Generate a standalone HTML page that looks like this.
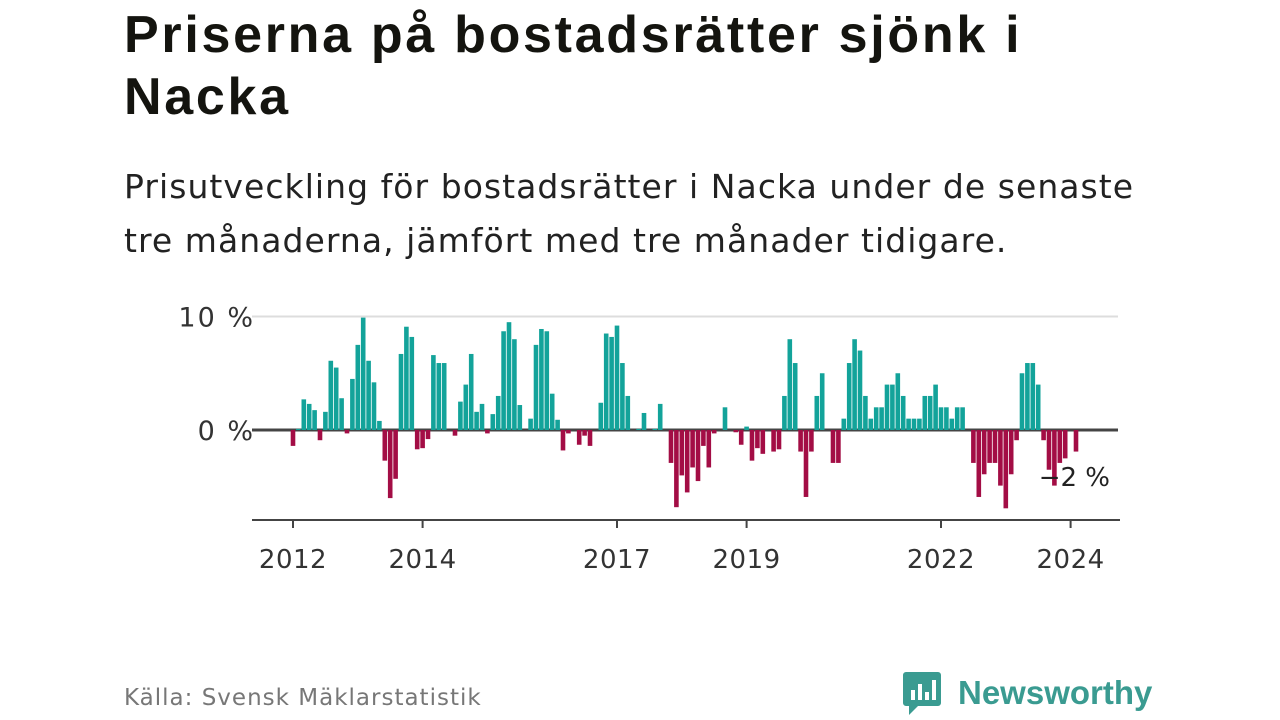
<!DOCTYPE html>
<html><head><meta charset="utf-8"><style>
body{margin:0;width:1280px;height:720px;background:#fff;font-family:"DejaVu Sans","Liberation Sans",sans-serif;overflow:hidden;position:relative;color:#111}
h1{position:absolute;left:124px;top:4px;margin:0;font-family:"Liberation Sans",sans-serif;font-size:52px;line-height:62px;font-weight:bold;color:#14140f;width:960px;letter-spacing:2.7px}
.sub{position:absolute;left:124px;top:160px;font-size:33px;line-height:54px;color:#222;width:1050px;letter-spacing:1.05px}
.src{position:absolute;left:124px;top:685px;font-size:23px;color:#777;letter-spacing:1px}
.logo{position:absolute;left:902px;top:670px;display:flex;align-items:center;color:#3a9b91;font-weight:bold;font-size:33px;font-family:"Liberation Sans",sans-serif}
</style></head><body>
<h1>Priserna på bostadsrätter sjönk i Nacka</h1>
<div class="sub">Prisutveckling för bostadsrätter i Nacka under de senaste tre månaderna, jämfört med tre månader tidigare.</div>
<svg id="chart" width="1280" height="720" style="position:absolute;left:0;top:0"></svg>
<div class="src">Källa: Svensk Mäklarstatistik</div>
<div class="logo"><svg width="40" height="46" viewBox="0 0 40 46"><path d="M4 2h32a3 3 0 0 1 3 3v28a3 3 0 0 1-3 3H16l-9 9v-9H4a3 3 0 0 1-3-3V5a3 3 0 0 1 3-3z" fill="#3a9b91"/><rect x="9" y="20" width="4" height="10" fill="#fff"/><rect x="16" y="14" width="4" height="16" fill="#fff"/><rect x="23" y="22" width="4" height="8" fill="#fff"/><rect x="30" y="10" width="4" height="20" fill="#fff"/></svg><span style="margin-left:16px">Newsworthy</span></div>
<script>
const values=[-1.4,0.1,2.7,2.3,1.75,-0.9,1.6,6.1,5.5,2.8,-0.3,4.5,7.5,9.9,6.1,4.2,0.8,-2.7,-6.0,-4.3,6.7,9.1,8.2,-1.7,-1.6,-0.8,6.6,5.9,5.9,0,-0.5,2.5,4.0,6.7,1.6,2.3,-0.3,1.4,3.0,8.7,9.5,8.0,2.2,0,1.0,7.5,8.9,8.7,
3.2,0.9,-1.8,-0.3,0,-1.3,-0.5,-1.4,0,2.4,8.5,8.2,9.2,5.9,3.0,0,0.1,1.5,0,0.1,2.3,0,-2.9,-6.8,-4.0,-5.5,-3.3,-4.5,-1.4,-3.3,-0.3,0,2.0,0,-0.2,-1.3,0.3,-2.7,-1.6,-2.1,0,-1.9,-1.7,3.0,8.0,5.9,-1.9,-5.9,-1.9,3.0,5.0,0,-2.9,-2.9,
1.0,5.9,8.0,7.0,3.0,1.0,2.0,2.0,4.0,4.0,5.0,3.0,1.0,1.0,1.0,3.0,3.0,4.0,2.0,2.0,1.0,2.0,2.0,0,-2.9,-5.9,-3.9,-2.9,-2.9,-4.9,-6.9,-3.9,-0.9,5.0,5.9,5.9,4.0,-0.9,-3.5,-4.9,-2.9,-2.5,0,-1.9];
const yTicks=[0,10];
const yTickLabels=["0 %","10 %"];
const xTickMonths=[0,24,60,84,120,144];
const xTickLabels=["2012","2014","2017","2019","2022","2024"];
const lastLabel="−2 %";
const svg=document.getElementById('chart');const NS='http://www.w3.org/2000/svg';
const x=i=>293+i*5.4;const y=v=>430-v*11.35;
function mk(t,a){const e=document.createElementNS(NS,t);for(const k in a)e.setAttribute(k,a[k]);svg.appendChild(e);return e;}
yTicks.forEach((v,i)=>{
 const l=mk('line',{x1:252,x2:1118,y1:y(v),y2:y(v),stroke:v===0?'#444':'#ddd','stroke-width':v===0?3:2});
 
 
 const t=mk('text',{x:255,y:y(v)+10,'text-anchor':'end','font-size':27,'letter-spacing':2,fill:'#333'});t.textContent=yTickLabels[i];
 
 
});
values.forEach((v,i)=>{
 if(v===0)return;
 const r=mk('rect',{x:x(i)-2.3,width:4.6,y:v>0?y(v):y(0),height:Math.abs(y(v)-y(0)),fill:v>0?'#13a39a':'#a30d45'});
 
 
});
const ax=mk('line',{x1:252,x2:1120,y1:520,y2:520,stroke:'#444','stroke-width':2});


xTickMonths.forEach((m,i)=>{
 const tk=mk('line',{x1:x(m),x2:x(m),y1:520,y2:528,stroke:'#444','stroke-width':2});
 
 
 const t=mk('text',{x:x(m),y:568,'text-anchor':'middle','font-size':26,'letter-spacing':0.5,fill:'#333'});t.textContent=xTickLabels[i];
 
 
});
const lt=mk('text',{x:1110,y:486,'text-anchor':'end','font-size':26,fill:'#222'});lt.textContent=lastLabel;


</script>
</body></html>
